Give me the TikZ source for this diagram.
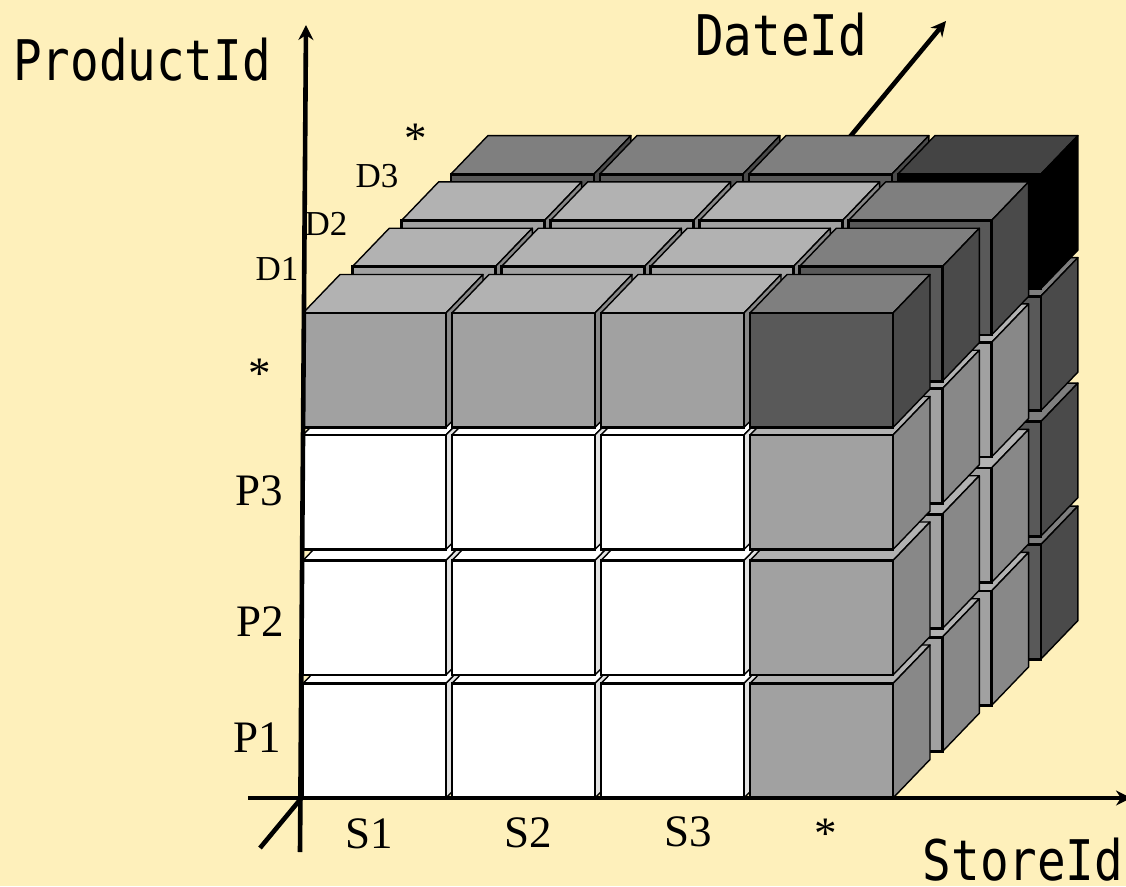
\documentclass[tikz,border=0pt]{standalone}
\usepackage{fontspec}
\setmainfont{Liberation Serif}
\newfontfamily\axisfont[FakeStretch=0.85]{DejaVu Sans Mono}
\usepackage{xcolor}
\usetikzlibrary{arrows.meta}
\definecolor{CB_PAPER}{HTML}{fef0bb}
\definecolor{CB_FRONT0}{HTML}{ffffff}
\definecolor{CB_TOP0}{HTML}{ffffff}
\definecolor{CB_SIDE0}{HTML}{e2e2e2}
\definecolor{CB_FRONT1}{HTML}{a1a1a1}
\definecolor{CB_TOP1}{HTML}{b2b2b2}
\definecolor{CB_SIDE1}{HTML}{888888}
\definecolor{CB_FRONT2}{HTML}{595959}
\definecolor{CB_TOP2}{HTML}{7f7f7f}
\definecolor{CB_SIDE2}{HTML}{4a4a4a}
\definecolor{CB_FRONT3}{HTML}{000000}
\definecolor{CB_TOP3}{HTML}{444444}
\definecolor{CB_SIDE3}{HTML}{000000}
\tikzset{
  axis/.style={-{Stealth[length=15pt,width=15pt]}, line width=4.6pt, black},
  axisname/.style={font=\axisfont\fontsize{56}{60}\selectfont, inner sep=0pt},
  coordname/.style={font=\fontsize{45}{50}\selectfont, inner sep=0pt},
  layername/.style={font=\fontsize{35}{40}\selectfont, inner sep=0pt},
  backface/.style={draw=black, line width=1.4pt, line join=round},
  frontface/.style={draw=black, line width=2.8pt, line join=miter},
}
% one cube: column, row, layer, number of * coordinates
\newcommand{\cubecell}[4]{
  \pgfmathsetmacro{\cx}{303+149*#1+49.3*#3}
  \pgfmathsetmacro{\cy}{{798,675,549.5,427.5}[#2]-46.3*#3}
  \begin{scope}[shift={(\cx,\cy)}]
    \filldraw[backface, fill=CB_TOP#4] (0,-114.5) -- (37,-153) -- (180,-153) -- (143,-114.5) -- cycle;
    \filldraw[backface, fill=CB_SIDE#4] (143,0) -- (180,-38.5) -- (180,-153) -- (143,-114.5) -- cycle;
    \filldraw[frontface, fill=CB_FRONT#4] (0,0) rectangle (143,-114.5);
  \end{scope}
}

\begin{document}
\begin{tikzpicture}[x=1pt, y=-1pt]

  \fill[CB_PAPER] (0,0) rectangle (1126,886);
  \useasboundingbox (0,0) rectangle (1126,886);

  \coordinate (prodbase)  at (300,852);
  \coordinate (prodtip)   at (306,25);
  \coordinate (storebase) at (248,798);
  \coordinate (storetip)  at (1131,798);
  \coordinate (datebase)  at (260,848);
  \coordinate (datetip)   at (946,21);

  \draw[axis] (datebase) -- (datetip);

  % back layer first, bottom row first, left column first
  \foreach \layer in {3,2,1,0} {
    \foreach \row in {0,1,2,3} {
      \foreach \col in {0,1,2,3} {
        \pgfmathtruncatemacro{\stars}{(\layer==3)+(\row==3)+(\col==3)}
        \cubecell{\col}{\row}{\layer}{\stars}
      }
    }
  }

  \draw[axis] (prodbase) -- (prodtip);
  \draw[axis] (storebase) -- (storetip);

  \node[axisname] (product) at (142,60) {ProductId};
  \node[axisname] (date)    at (781,35) {DateId};
  \node[axisname] (store)   at (1023,860) {StoreId};

  \node[coordname] (s1) at (369,834) {S1};
  \node[coordname] (s2) at (528,833) {S2};
  \node[coordname] (s3) at (688,832) {S3};
  \node[coordname] (sx) at (826,834) {*};

  \node[coordname] (p1) at (257,738) {P1};
  \node[coordname] (p2) at (260,622) {P2};
  \node[coordname] (p3) at (259,491) {P3};
  \node[coordname] (px) at (260,374) {*};

  \node[layername] (d1) at (277,269) {D1};
  \node[layername] (d2) at (326,224) {D2};
  \node[layername] (d3) at (377,176) {D3};
  \node[coordname] (dx) at (416,139) {*};

\end{tikzpicture}
\end{document}
